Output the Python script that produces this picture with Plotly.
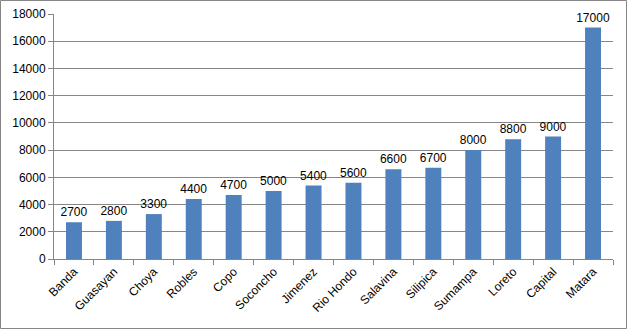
import plotly.graph_objects as go

categories = ["Banda", "Guasayan", "Choya", "Robles", "Copo", "Soconcho", "Jimenez",
              "Rio Hondo", "Salavina", "Silipica", "Sumampa", "Loreto", "Capital", "Matara"]
values = [2700, 2800, 3300, 4400, 4700, 5000, 5400, 5600, 6600, 6700, 8000, 8800, 9000, 17000]
y_ticks = [0, 2000, 4000, 6000, 8000, 10000, 12000, 14000, 16000, 18000]

W, H = 628, 330
L, R, T, B = 54, 15, 14, 71
pw, ph = W - L - R, H - T - B

fig = go.Figure(go.Bar(
    x=categories, y=values,
    marker=dict(color="#4F81BD", line=dict(width=0)),
    text=[str(v) for v in values], textposition="outside",
    constraintext="none",
    textfont=dict(color="#000000", size=12, family="Liberation Sans"),
    cliponaxis=False,
))

fig.update_layout(
    width=W, height=H,
    margin=dict(l=L, r=R, t=T, b=B, autoexpand=False),
    paper_bgcolor="white", plot_bgcolor="white",
    font=dict(family="Liberation Sans", size=12, color="#000000"),
    bargap=0.6, showlegend=False,
    xaxis=dict(
        tickangle=-45, showline=True, linecolor="#868686", linewidth=1,
        ticks="outside", tickson="boundaries", ticklen=5, tickcolor="#868686",
        showgrid=False, tickfont=dict(size=12), automargin=False,
    ),
    yaxis=dict(
        range=[0, 18000], tickvals=y_ticks, ticktext=[str(v) for v in y_ticks],
        showline=True, linecolor="#868686",
        linewidth=1, ticks="outside", ticklen=5, tickcolor="#868686",
        showgrid=True, gridcolor="#868686", gridwidth=1, zeroline=False,
        tickfont=dict(size=12), automargin=False,
    ),
    shapes=[dict(
        type="rect", xref="paper", yref="paper",
        x0=(0.5 - L) / pw, x1=(W - 1.5 - L) / pw,
        y0=(H - B - (H - 1.5)) / ph, y1=(H - B - 0.5) / ph,
        line=dict(color="#868686", width=1), fillcolor="rgba(0,0,0,0)",
    )],
)

fig.write_html("out.html", config={"displayModeBar": False},
               post_script="document.body.style.margin='0';document.body.style.overflow='hidden';")
